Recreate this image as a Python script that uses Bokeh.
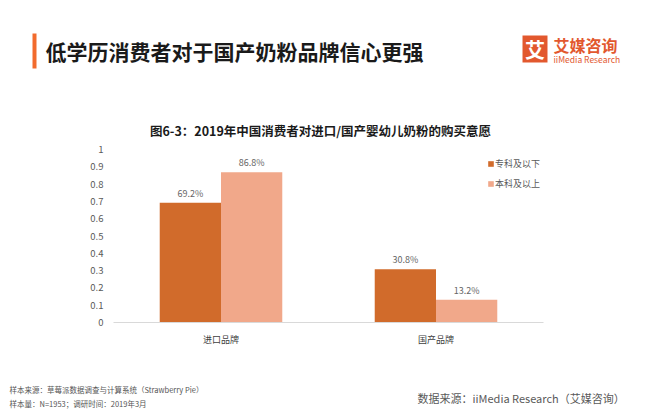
from bokeh.plotting import figure
from bokeh.models import ColumnDataSource, Range1d, Legend, LegendItem, FixedTicker
from bokeh.transform import dodge
from bokeh.core.properties import value
from bokeh.embed import file_html
from bokeh.resources import INLINE

# ---- data ----
categories = ["进口品牌", "国产品牌"]
series_names = ["专科及以下", "本科及以上"]
below_college = [0.692, 0.308]
college_above = [0.868, 0.132]
y_ticks = [0, 0.1, 0.2, 0.3, 0.4, 0.5, 0.6, 0.7, 0.8, 0.9, 1]

title_text = "低学历消费者对于国产奶粉品牌信心更强"
subtitle_text = "图6-3：2019年中国消费者对进口/国产婴幼儿奶粉的购买意愿"
foot1 = "样本来源：草莓派数据调查与计算系统（Strawberry   Pie）"
foot2 = "样本量：N=1953；调研时间：2019年3月"
foot3 = "数据来源：iiMedia Research（艾媒咨询）"

FONT = "Noto Sans CJK SC"
DARK = "#D16B2B"
LIGHT = "#F1A88A"
ACCENT = "#F26B2D"
LOGO = "#E2582E"

# layout (pixels)
FL, FW, FR = 113, 430, 121
FT, FH, FB = 149, 173, 87

cat_pos = [i + 0.5 for i in range(len(categories))]
source = ColumnDataSource(dict(
    x=cat_pos,
    a=below_college,
    b=college_above,
    a_lbl=[f"{v*100:.1f}%" for v in below_college],
    b_lbl=[f"{v*100:.1f}%" for v in college_above],
))

p = figure(x_range=Range1d(0, len(categories)), y_range=Range1d(0, 1),
           frame_width=FW, frame_height=FH,
           min_border_left=FL, min_border_right=FR, min_border_top=FT, min_border_bottom=FB,
           output_backend="svg", toolbar_location=None)
p.outline_line_color = None
p.xgrid.grid_line_color = None
p.ygrid.grid_line_color = None
# page-pixel ranges for the decoration texts around the chart
p.extra_x_ranges = {"px": Range1d(FL, FL + FW)}
p.extra_y_ranges = {"py": Range1d(FT + FH, FT)}

off = 0.1425
w = 0.285
r1 = p.vbar(x=dodge("x", -off), top="a", width=w, source=source,
            fill_color=DARK, line_color=None)
r2 = p.vbar(x=dodge("x", off), top="b", width=w, source=source,
            fill_color=LIGHT, line_color=None)

for col, lbl, o in (("a", "a_lbl", -off), ("b", "b_lbl", off)):
    p.text(x=dodge("x", o), y=col, text=lbl, source=source,
           text_align="center", text_baseline="middle", y_offset=-9.5,
           text_font=value(FONT), text_font_size="9px", text_color="#666666")

p.yaxis.ticker = y_ticks
p.yaxis.axis_line_color = None
p.yaxis.major_tick_line_color = None
p.yaxis.minor_tick_line_color = None
p.yaxis.major_tick_out = 0
p.yaxis.major_tick_in = 0
p.yaxis.major_label_standoff = 10
p.yaxis.major_label_text_font = FONT
p.yaxis.major_label_text_font_size = "9.5px"
p.yaxis.major_label_text_color = "#595959"
p.yaxis.major_label_overrides = {0: "0", 1: "1"}

p.xaxis.ticker = FixedTicker(ticks=cat_pos)
p.xaxis.major_label_overrides = {pos: c for pos, c in zip(cat_pos, categories)}
p.xaxis.axis_line_color = "#D9D9D9"
p.xaxis.major_tick_line_color = None
p.xaxis.minor_tick_line_color = None
p.xaxis.major_tick_out = 0
p.xaxis.major_tick_in = 0
p.xaxis.major_label_standoff = 10
p.xaxis.major_label_text_font = FONT
p.xaxis.major_label_text_font_size = "9px"
p.xaxis.major_label_text_color = "#404040"

legend = Legend(items=[LegendItem(label=series_names[0], renderers=[r1]),
                       LegendItem(label=series_names[1], renderers=[r2])],
                location=(374, 129), orientation="vertical",
                glyph_width=7, glyph_height=7, label_standoff=1, label_height=20,
                spacing=0, padding=0, margin=0,
                border_line_alpha=0, background_fill_alpha=0,
                label_text_font=FONT, label_text_font_size="9px", label_text_color="#595959")
p.add_layout(legend)


def box(l, r, t, b, color):
    p.quad(left=[l], right=[r], top=[t], bottom=[b], fill_color=color, line_color=None,
           x_range_name="px", y_range_name="py", level="overlay")


def txt(x, y, t, size, color, bold=False, align="left"):
    p.text(x=[x], y=[y], text=[t], text_font=value(FONT), text_font_size=size,
           text_color=color, text_font_style="bold" if bold else "normal",
           text_align=align, text_baseline="middle",
           x_range_name="px", y_range_name="py", level="overlay")


# header
box(32, 36, 33, 68, ACCENT)
txt(45, 50, title_text, "21px", "#1A1A1A", bold=True)
box(522, 547, 35, 62, LOGO)
txt(534.5, 48.5, "艾", "20px", "white", bold=True, align="center")
txt(553, 44, "艾媒咨询", "16px", LOGO, bold=True)
txt(553, 58, "iiMedia Research", "8.5px", LOGO)
txt(320, 130, subtitle_text, "12.5px", "#1A1A1A", bold=True, align="center")
# footer
txt(9, 389, foot1, "7.5px", "#555555")
txt(9, 403, foot2, "7.5px", "#555555")
txt(417, 397, foot3, "11px", "#595959")

open("out.html", "w").write(file_html(p, INLINE))
